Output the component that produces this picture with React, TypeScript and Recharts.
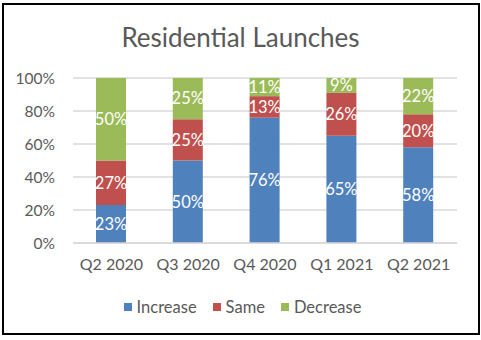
import React from 'react';
import { BarChart, Bar, XAxis, YAxis, CartesianGrid, LabelList } from 'recharts';

const categories = ['Q2 2020', 'Q3 2020', 'Q4 2020', 'Q1 2021', 'Q2 2021'];
const increase = [23, 50, 76, 65, 58];
const same = [27, 25, 13, 26, 20];
const decrease = [50, 25, 11, 9, 22];
const yTicks = [0, 20, 40, 60, 80, 100];

const series = [
  { key: 'Increase', values: increase, color: '#4F81BD' },
  { key: 'Same', values: same, color: '#C0504D' },
  { key: 'Decrease', values: decrease, color: '#9BBB59' },
];

const data = categories.map((c, i) => {
  const row: any = { name: c };
  series.forEach((s) => (row[s.key] = s.values[i]));
  return row;
});

const FONT = 'Lato, "Noto Sans", sans-serif';
const GRAY = '#595959';

export default function App() {
  return (
    <div style={{ position: 'absolute', left: 0, top: 0, width: 481, height: 340, background: '#fff' }}>
      <div
        style={{
          position: 'absolute',
          left: 2,
          top: 3,
          width: 474,
          height: 328,
          border: '2px solid #000',
        }}
      />
      <div
        style={{
          position: 'absolute',
          left: 0,
          top: 20,
          width: 481,
          textAlign: 'center',
          fontFamily: FONT,
          fontSize: 26,
          lineHeight: '34px',
          color: GRAY,
        }}
      >
        Residential Launches
      </div>
      <BarChart
        width={481}
        height={340}
        data={data}
        margin={{ top: 78, right: 24, bottom: 67, left: 0 }}
        barSize={30}
        style={{ position: 'absolute', left: 0, top: 0 }}
      >
        <CartesianGrid vertical={false} stroke="#D9D9D9" strokeWidth={1.5} />
        <XAxis
          dataKey="name"
          height={30}
          axisLine={{ stroke: '#D9D9D9', strokeWidth: 1.5 }}
          tickLine={false}
          tickSize={0}
          tickMargin={16}
          tick={{ fill: GRAY, fontSize: 16, fontFamily: FONT }}
        />
        <YAxis
          width={73}
          domain={[0, 100]}
          ticks={yTicks}
          axisLine={false}
          tickLine={false}
          tickSize={0}
          tickMargin={18}
          tickFormatter={(v) => `${v}%`}
          tick={{ fill: GRAY, fontSize: 15.5, fontFamily: FONT }}
        />
        {series.map((s) => (
          <Bar key={s.key} dataKey={s.key} stackId="a" fill={s.color} isAnimationActive={false}>
            <LabelList
              dataKey={s.key}
              position="center"
              formatter={(v: any) => `${v}%`}
              fill="#FFFFFF"
              style={{ fontSize: 16.5, fontFamily: FONT }}
            />
          </Bar>
        ))}
      </BarChart>
      <div
        style={{
          position: 'absolute',
          left: 0,
          top: 296,
          width: 481,
          display: 'flex',
          justifyContent: 'center',
          alignItems: 'center',
          fontFamily: FONT,
          fontSize: 16.5,
          lineHeight: '22px',
          color: GRAY,
          paddingLeft: 4,
          boxSizing: 'border-box',
        }}
      >
        {series.map((s, i) => (
          <div
            key={s.key}
            style={{ display: 'flex', alignItems: 'center', marginRight: i < series.length - 1 ? 16 : 0 }}
          >
            <span style={{ width: 8, height: 8, background: s.color, display: 'inline-block', marginRight: 5 }} />
            <span>{s.key}</span>
          </div>
        ))}
      </div>
    </div>
  );
}
